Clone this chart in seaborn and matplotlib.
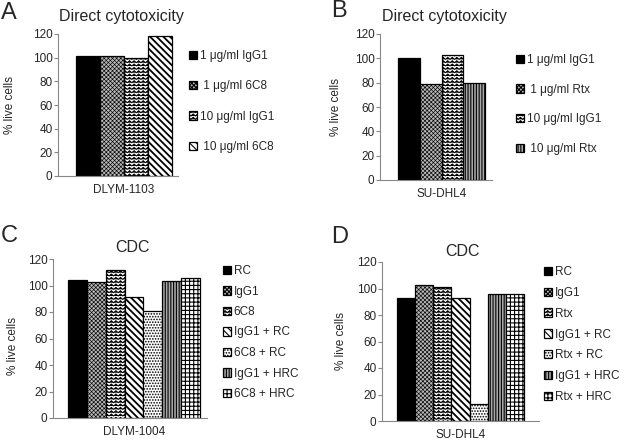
import numpy as np
import pandas as pd
import matplotlib
matplotlib.use("Agg")
import matplotlib.pyplot as plt
import matplotlib.hatch as mhatch
from matplotlib.path import Path
import seaborn as sns

# ---------------- data ----------------
cells_a = ["DLYM-1103"]
treat_a = ["1 μg/ml IgG1", " 1 μg/ml 6C8", "10 μg/ml IgG1", " 10 μg/ml 6C8"]
vals_a = [101, 101, 99.5, 118]

cells_b = ["SU-DHL4"]
treat_b = ["1 μg/ml IgG1", " 1 μg/ml Rtx", "10 μg/ml IgG1", " 10 μg/ml Rtx"]
vals_b = [100, 79, 102.5, 80]

cells_c = ["DLYM-1004"]
treat_c = ["RC", "IgG1", "6C8", "IgG1 + RC", "6C8 + RC", "IgG1 + HRC", "6C8 + HRC"]
vals_c = [104, 103, 112, 91, 81, 103.5, 106]

cells_d = ["SU-DHL4"]
treat_d = ["RC", "IgG1", "Rtx", "IgG1 + RC", "Rtx + RC", "IgG1 + HRC", "Rtx + HRC"]
vals_d = [93, 103, 101, 92.5, 12.5, 95.5, 95.5]

yticks = [0, 20, 40, 60, 80, 100, 120]


# ---------------- zig-zag hatch (re-uses the 'O' hatch letter) ----------------
class ZigZagHatch(mhatch.HatchPatternBase):
    def __init__(self, hatch, density):
        self.num_rows = int(hatch.count("O") * density)
        self.periods = 22
        self.per_row = 2 * self.periods + 1
        self.num_vertices = self.num_rows * self.per_row

    def set_vertices_and_codes(self, vertices, codes):
        n = self.num_rows
        xs = np.linspace(0, 1, self.per_row)
        amp = 0.5 / n * 0.6
        offs = np.where(np.arange(self.per_row) % 2 == 0, -amp, amp)
        for i in range(n):
            y = (i + 0.5) / n
            s = slice(i * self.per_row, (i + 1) * self.per_row)
            vertices[s, 0] = xs
            vertices[s, 1] = y + offs
            codes[s] = Path.LINETO
            codes[i * self.per_row] = Path.MOVETO


mhatch._hatch_types[:] = [t for t in mhatch._hatch_types if t is not mhatch.LargeCircles]
mhatch._hatch_types.append(ZigZagHatch)

# ---------------- style ----------------
sns.set_theme(style="white")
plt.rcParams["font.family"] = ["Liberation Sans", "DejaVu Sans"]
plt.rcParams["hatch.linewidth"] = 0.8
plt.rcParams["hatch.color"] = "black"

W, H = 624, 443
fig = plt.figure(figsize=(W / 100, H / 100), dpi=100)

# face colour, hatch, hatch line width
STY = {
    "solid": ("black", "", 0.8),
    "check": ("#b8b8b8", "xxxxxxxx", 0.45),
    "zig": ("white", "OOOOO", 0.7),
    "diag": ("white", "\\" * 5, 1.3),
    "dots": ("white", "......", 0.8),
    "vert": ("#a8a8a8", "||||||", 0.8),
    "grid": ("white", "++++", 0.8),
}


def panel(left, right, top0, bot0, xlim, cells, treats, vals, styles,
          title, tpos, letter, lpos, ylab_x, ylab_y, leg_xy, leg_space):
    ax = fig.add_axes([left / W, 1 - bot0 / H, (right - left) / W, (bot0 - top0) / H])
    df = pd.DataFrame({"cell": cells * len(treats), "treatment": treats, "value": vals})
    pal = [STY[s][0] for s in styles]
    sns.barplot(data=df, x="cell", y="value", hue="treatment", hue_order=treats,
                palette=pal, saturation=1, edgecolor="black", linewidth=0.9,
                width=0.8, gap=0, legend=False, ax=ax, errorbar=None)
    for cont, s in zip(ax.containers, styles):
        for p in cont.patches:
            p.set_hatch(STY[s][1])
            if hasattr(p, "set_hatch_linewidth"):
                p.set_hatch_linewidth(STY[s][2])
    ax.set_ylim(0, 120)
    ax.set_xlim(*xlim)
    ax.set_yticks(yticks)
    ax.set_xlabel("")
    ax.set_ylabel("% live cells", fontsize=8.5)
    ax.yaxis.set_label_coords((ylab_x - left) / (right - left), ylab_y)
    ax.yaxis.label.set_va("center")
    for sp in ["top", "right"]:
        ax.spines[sp].set_visible(False)
    for sp in ["left", "bottom"]:
        ax.spines[sp].set_color("#888888")
        ax.spines[sp].set_linewidth(0.8)
    ax.tick_params(axis="y", length=3, width=0.8, color="#888888", pad=1,
                   labelsize=8.5, left=True)
    ax.tick_params(axis="x", length=0, pad=6, labelsize=8.5)
    fig.text(tpos[0] / W, 1 - tpos[1] / H, title, fontsize=11.5, ha="center", va="center")
    fig.text(lpos[0] / W, 1 - lpos[1] / H, letter, fontsize=17, ha="center", va="center")
    handles = [c.patches[0] for c in ax.containers]
    ax.legend(handles, treats, loc="upper left",
              bbox_to_anchor=(leg_xy[0] / W, 1 - leg_xy[1] / H),
              bbox_transform=fig.transFigure, frameon=False, fontsize=8.5,
              borderpad=0, borderaxespad=0, handlelength=0.7, handleheight=0.7,
              handletextpad=0.2, labelspacing=leg_space)
    return ax


panel(58, 178, 34, 176, (-0.55, 0.45), cells_a, treat_a, vals_a,
      ["solid", "check", "zig", "diag"], "Direct cytotoxicity", (121, 16),
      "A", (9, 13), 10, 0.5, (189, 50), 1.55)
panel(380, 492, 34, 180, (-0.565, 0.462), cells_b, treat_b, vals_b,
      ["solid", "check", "zig", "vert"], "Direct cytotoxicity", (444, 16),
      "B", (339, 11), 336, 0.5, (516, 54), 1.5)
panel(53, 207, 259, 418, (-0.491, 0.442), cells_c, treat_c, vals_c,
      ["solid", "check", "zig", "diag", "dots", "vert", "grid"], "CDC", (133, 248),
      "C", (9, 236), 13, 0.45, (223, 265), 0.72)
panel(382, 539, 262, 421, (-0.494, 0.493), cells_d, treat_d, vals_d,
      ["solid", "check", "zig", "diag", "dots", "vert", "grid"], "CDC", (462, 252),
      "D", (340, 237), 341, 0.5, (544, 266), 0.75)

fig.savefig("out.png", dpi=100)
